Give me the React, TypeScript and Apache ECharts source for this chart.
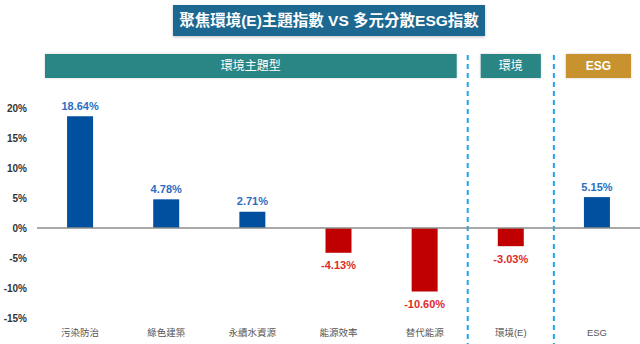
import React, { useEffect, useRef } from "react";
import * as echarts from "echarts";

const categories = ["污染防治", "綠色建築", "永續水資源", "能源效率", "替代能源", "環境(E)", "ESG"];
const values = [18.64, 4.78, 2.71, -4.13, -10.6, -3.03, 5.15];
const yTicks = { min: -15, max: 20, interval: 5 };
const titleText = "聚焦環境(E)主題指數 VS 多元分散ESG指數";
const groupLabels = ["環境主題型", "環境", "ESG"];

const FONT = "'Liberation Sans', 'Noto Sans CJK TC', sans-serif";
const BLUE = "#00509f";
const RED = "#c00000";

export default function App() {
  const ref = useRef<HTMLDivElement>(null);
  useEffect(() => {
    if (!ref.current) return;
    const chart = echarts.init(ref.current, undefined, { renderer: "svg" });
    chart.setOption({
      animation: false,
      grid: { left: 37, right: -2, top: 108, bottom: 26, containLabel: false },
      xAxis: {
        type: "category",
        data: categories,
        axisLine: { show: false },
        axisTick: { show: false },
        axisLabel: {
          margin: 10,
          color: "#555",
          fontSize: 9.5,
          fontFamily: FONT,
          interval: 0,
        },
      },
      yAxis: {
        type: "value",
        min: yTicks.min,
        max: yTicks.max,
        interval: yTicks.interval,
        axisLine: { show: false },
        axisTick: { show: false },
        splitLine: { show: false },
        axisLabel: {
          margin: 10,
          color: "#333",
          fontWeight: "bold",
          fontSize: 10,
          fontFamily: FONT,
          formatter: (v: number) => `${v}%`,
        },
      },
      series: [
        {
          type: "bar",
          barWidth: 26,
          data: values.map((v) => ({
            value: v,
            itemStyle: { color: v >= 0 ? BLUE : RED },
            label: {
              show: true,
              position: v >= 0 ? "top" : "bottom",
              distance: v >= 0 ? 5 : 7,
              color: v >= 0 ? "#2a6ebf" : "#e02a2a",
              fontWeight: "bold",
              fontSize: 11,
              fontFamily: FONT,
              formatter: (p: any) => `${Number(p.value).toFixed(2)}%`,
            },
          })),
          markLine: {
            silent: true,
            symbol: "none",
            label: { show: false },
            lineStyle: { color: "#8c8c8c", type: "solid", width: 1.5 },
            data: [{ yAxis: 0 }],
          },
        },
      ],
    });

    const cx = (i: number) => chart.convertToPixel({ xAxisIndex: 0 }, categories[i]) as number;
    const band = cx(1) - cx(0);
    const b = (k: number) => cx(0) - band / 2 + k * band;
    const d1 = b(5);
    const d2 = b(6);
    const boxY = 54;
    const boxH = 24;
    const boxes = [
      { x0: b(0) + 8, x1: b(5) - 11, color: "#2a8585", text: groupLabels[0], bold: false },
      { x0: b(5) + 13, x1: b(6) - 13, color: "#2a8585", text: groupLabels[1], bold: false },
      { x0: b(6) + 12, x1: b(7) - 9, color: "#c8932e", text: groupLabels[2], bold: true },
    ];
    const graphic: any[] = [
      {
        type: "rect",
        shape: { x: 173, y: 5, width: 312, height: 31 },
        style: { fill: "#1b6891", shadowBlur: 3, shadowColor: "rgba(0,0,0,0.25)", shadowOffsetY: 1 },
      },
      {
        type: "text",
        x: 329,
        y: 20.5,
        style: {
          text: titleText,
          fill: "#fff",
          font: `bold 15.5px ${FONT}`,
          align: "center",
          verticalAlign: "middle",
        },
      },
    ];
    boxes.forEach((bx) => {
      graphic.push({
        type: "rect",
        shape: { x: bx.x0, y: boxY, width: bx.x1 - bx.x0, height: boxH },
        style: { fill: bx.color, shadowBlur: 2, shadowColor: "rgba(0,0,0,0.2)" },
      });
      graphic.push({
        type: "text",
        x: (bx.x0 + bx.x1) / 2,
        y: boxY + boxH / 2,
        style: {
          text: bx.text,
          fill: "#fff",
          font: `${bx.bold ? "bold " : ""}12px ${FONT}`,
          align: "center",
          verticalAlign: "middle",
        },
      });
    });
    [d1, d2].forEach((x) => {
      graphic.push({
        type: "line",
        shape: { x1: x, y1: 55, x2: x, y2: 344 },
        style: { stroke: "#1ea6ea", lineWidth: 2, lineDash: [5, 4] },
      });
    });
    chart.setOption({ graphic });
    return () => chart.dispose();
  }, []);
  return <div ref={ref} style={{ width: 640, height: 344, position: "absolute", left: 0, top: 0 }} />;
}
